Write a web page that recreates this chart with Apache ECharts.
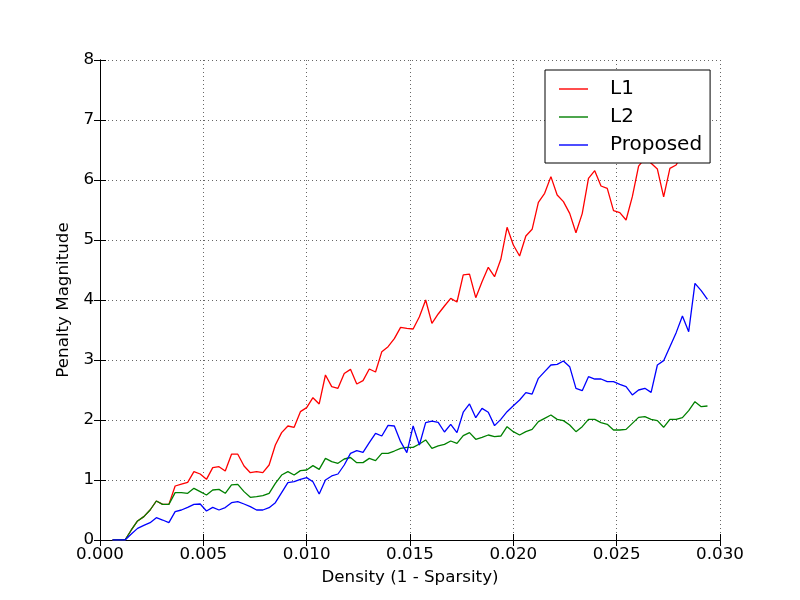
<!DOCTYPE html>
<html>
<head>
<meta charset="utf-8">
<script src="https://cdn.jsdelivr.net/npm/echarts@6/dist/echarts.min.js"></script>
<style>
html, body { margin: 0; padding: 0; background: #fff; }
#chart { width: 800px; height: 600px; }
</style>
</head>
<body>
<div id="chart"></div>
<script>
const density = [
  0.000606, 0.000909, 0.001212, 0.001515, 0.001818, 0.002121, 0.002424, 0.002727, 0.003030, 0.003333,
  0.003636, 0.003939, 0.004242, 0.004545, 0.004848, 0.005152, 0.005455, 0.005758, 0.006061, 0.006364,
  0.006667, 0.006970, 0.007273, 0.007576, 0.007879, 0.008182, 0.008485, 0.008788, 0.009091, 0.009394,
  0.009697, 0.010000, 0.010303, 0.010606, 0.010909, 0.011212, 0.011515, 0.011818, 0.012121, 0.012424,
  0.012727, 0.013030, 0.013333, 0.013636, 0.013939, 0.014242, 0.014545, 0.014848, 0.015152, 0.015455,
  0.015758, 0.016061, 0.016364, 0.016667, 0.016970, 0.017273, 0.017576, 0.017879, 0.018182, 0.018485,
  0.018788, 0.019091, 0.019394, 0.019697, 0.020000, 0.020303, 0.020606, 0.020909, 0.021212, 0.021515,
  0.021818, 0.022121, 0.022424, 0.022727, 0.023030, 0.023333, 0.023636, 0.023939, 0.024242, 0.024545,
  0.024848, 0.025152, 0.025455, 0.025758, 0.026061, 0.026364, 0.026667, 0.026970, 0.027273, 0.027576,
  0.027879, 0.028182, 0.028485, 0.028788, 0.029091, 0.029394
];

const l1 = [
  0, 0, 0, 0.167, 0.317, 0.389, 0.50, 0.65, 0.594, 0.594,
  0.90, 0.933, 0.961, 1.139, 1.10, 1.011, 1.206, 1.222, 1.15, 1.43,
  1.43, 1.233, 1.122, 1.139, 1.122, 1.25, 1.583, 1.789, 1.90, 1.878,
  2.139, 2.206, 2.372, 2.267, 2.75, 2.556, 2.528, 2.775, 2.844, 2.60,
  2.656, 2.85, 2.80, 3.139, 3.222, 3.356, 3.544, 3.528, 3.517, 3.722,
  4.00, 3.611, 3.767, 3.90, 4.028, 3.967, 4.42, 4.43, 4.039, 4.306,
  4.544, 4.389, 4.678, 5.211, 4.917, 4.733, 5.067, 5.178, 5.628, 5.778,
  6.056, 5.75, 5.639, 5.444, 5.122, 5.44, 6.028, 6.156, 5.90, 5.861,
  5.489, 5.456, 5.333, 5.722, 6.23, 6.36, 6.28, 6.183, 5.72, 6.194,
  6.25, 6.45, 6.60, 6.80, 6.70, 6.90
];

const l2 = [
  0, 0, 0, 0.167, 0.317, 0.389, 0.50, 0.65, 0.594, 0.594,
  0.789, 0.789, 0.778, 0.861, 0.806, 0.75, 0.833, 0.844, 0.778, 0.92,
  0.928, 0.806, 0.711, 0.722, 0.739, 0.778, 0.944, 1.083, 1.139, 1.083,
  1.156, 1.167, 1.239, 1.178, 1.361, 1.306, 1.278, 1.35, 1.375, 1.289,
  1.289, 1.361, 1.322, 1.444, 1.444, 1.483, 1.528, 1.544, 1.544, 1.60,
  1.667, 1.528, 1.567, 1.594, 1.65, 1.611, 1.74, 1.789, 1.678, 1.711,
  1.75, 1.722, 1.733, 1.889, 1.806, 1.75, 1.806, 1.844, 1.972, 2.028,
  2.083, 2.011, 1.989, 1.917, 1.806, 1.889, 2.011, 2.011, 1.956, 1.928,
  1.833, 1.833, 1.844, 1.944, 2.044, 2.056, 2.011, 1.989, 1.878, 2.011,
  2.011, 2.039, 2.156, 2.306, 2.222, 2.233
];

const proposed = [
  0, 0, 0, 0.10, 0.194, 0.244, 0.289, 0.372, 0.333, 0.289,
  0.472, 0.50, 0.544, 0.594, 0.60, 0.483, 0.544, 0.50, 0.54, 0.622,
  0.639, 0.60, 0.556, 0.50, 0.50, 0.539, 0.622, 0.789, 0.956, 0.972,
  1.011, 1.039, 0.972, 0.767, 1.00, 1.067, 1.10, 1.25, 1.444, 1.489,
  1.461, 1.622, 1.778, 1.733, 1.911, 1.90, 1.639, 1.456, 1.90, 1.583,
  1.956, 1.983, 1.961, 1.80, 1.928, 1.789, 2.13, 2.267, 2.039, 2.194,
  2.128, 1.906, 2.011, 2.139, 2.239, 2.333, 2.456, 2.433, 2.694, 2.806,
  2.917, 2.928, 2.983, 2.889, 2.528, 2.489, 2.722, 2.683, 2.683, 2.639,
  2.639, 2.594, 2.556, 2.417, 2.50, 2.528, 2.461, 2.917, 2.989, 3.222,
  3.456, 3.733, 3.472, 4.278, 4.156, 4.011
];

const seriesNames = ['L1', 'L2', 'Proposed'];
const seriesColors = ['#ff0000', '#008000', '#0000ff'];
const seriesValues = [l1, l2, proposed];

const FONT = 'DejaVu Sans';

const chart = echarts.init(document.getElementById('chart'), null, { renderer: 'canvas' });

function pairs(ys) {
  return ys.map((y, i) => [density[i], y]);
}

const axisLineStyle = { color: '#000', width: 1 };
const gridLineStyle = { color: '#000', width: 0.6, type: [1, 3] };

chart.setOption({
  animation: false,
  backgroundColor: '#fff',
  grid: { left: 100, right: 80, top: 60, bottom: 60, containLabel: false },
  legend: {
    data: seriesNames,
    orient: 'vertical',
    left: 545,
    top: 70,
    padding: [7, 8, 6, 14],
    itemGap: 4,
    itemWidth: 29,
    itemHeight: 1.4,
    icon: 'rect',
    selectedMode: false,
    backgroundColor: '#fff',
    borderColor: '#000',
    borderWidth: 1,
    borderRadius: 0,
    textStyle: { fontFamily: FONT, fontSize: 20, color: '#000', lineHeight: 24, padding: [0, 0, 0, 17] }
  },
  xAxis: [
    {
      type: 'value', min: 0, max: 0.03, interval: 0.005, position: 'bottom',
      name: 'Density (1 - Sparsity)', nameLocation: 'middle', nameGap: 29,
      nameTextStyle: { fontFamily: FONT, fontSize: 16.7, color: '#000' },
      axisLine: { show: true, lineStyle: axisLineStyle },
      axisTick: { show: true, inside: true, length: 6, lineStyle: axisLineStyle },
      axisLabel: { fontFamily: FONT, fontSize: 16.7, color: '#000', margin: 6, formatter: v => v.toFixed(3) },
      splitLine: { show: true, lineStyle: gridLineStyle }
    },
    {
      type: 'value', min: 0, max: 0.03, interval: 0.005, position: 'top',
      axisLine: { show: true, lineStyle: axisLineStyle },
      axisTick: { show: true, inside: true, length: 6, lineStyle: axisLineStyle },
      axisLabel: { show: false },
      splitLine: { show: false }
    }
  ],
  yAxis: [
    {
      type: 'value', min: 0, max: 8, interval: 1, position: 'left',
      name: 'Penalty Magnitude', nameLocation: 'middle', nameGap: 22,
      nameTextStyle: { fontFamily: FONT, fontSize: 16.7, color: '#000' },
      axisLine: { show: true, lineStyle: axisLineStyle },
      axisTick: { show: true, inside: true, length: 6, lineStyle: axisLineStyle },
      axisLabel: { fontFamily: FONT, fontSize: 16.7, color: '#000', margin: 6 },
      splitLine: { show: true, lineStyle: gridLineStyle }
    },
    {
      type: 'value', min: 0, max: 8, interval: 1, position: 'right',
      axisLine: { show: true, lineStyle: axisLineStyle },
      axisTick: { show: true, inside: true, length: 6, lineStyle: axisLineStyle },
      axisLabel: { show: false },
      splitLine: { show: false }
    }
  ],
  series: seriesNames.map((name, k) => ({
    name: name,
    type: 'line',
    xAxisIndex: 0,
    yAxisIndex: 0,
    data: pairs(seriesValues[k]),
    symbol: 'none',
    showSymbol: false,
    smooth: false,
    color: seriesColors[k],
    itemStyle: { color: seriesColors[k] },
    lineStyle: { color: seriesColors[k], width: 1.3 },
    emphasis: { disabled: true },
    z: 2
  }))
});
</script>
</body>
</html>
